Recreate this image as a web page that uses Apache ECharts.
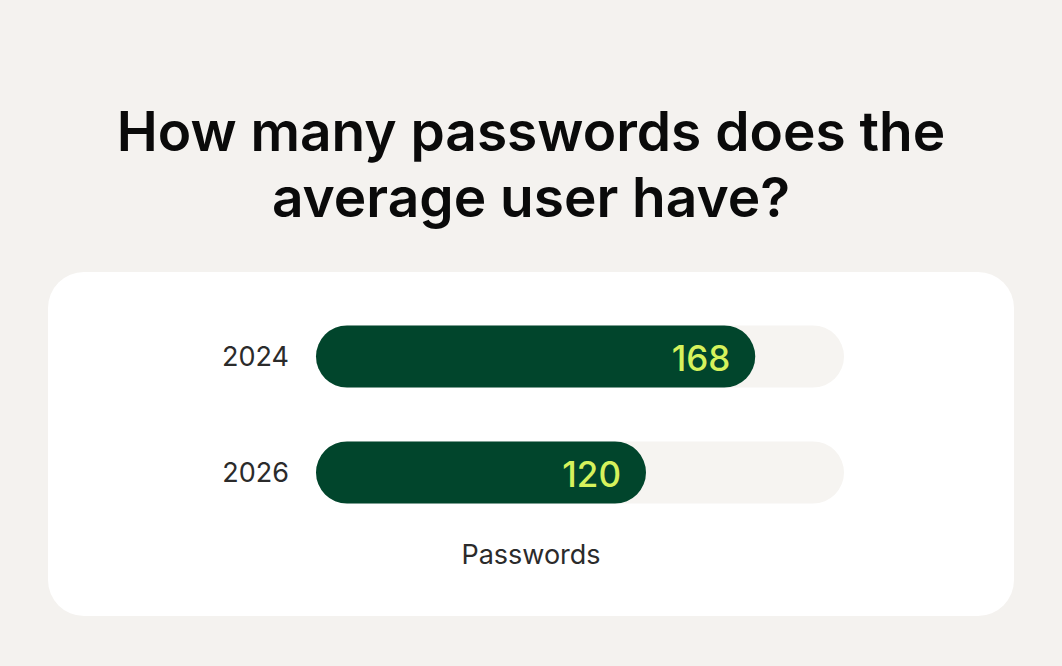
<!DOCTYPE html>
<html>
<head>
<meta charset="utf-8">
<script src="https://cdn.jsdelivr.net/npm/echarts@6/dist/echarts.min.js"></script>
<style>
html,body{margin:0;padding:0;background:#f4f2ef;}
#chart{width:1062px;height:666px;}
</style>
</head>
<body>
<div id="chart"></div>
<script>
const titleText = 'How many passwords does the\naverage user have?';
const categories = ['2024', '2026'];
const values = [168, 120];
const axisName = 'Passwords';
const axisMin = -25;
const axisMax = 207;

const chart = echarts.init(document.getElementById('chart'), null, {renderer: 'svg'});
const FONT = 'Inter, "Noto Sans", sans-serif';

chart.setOption({
  backgroundColor: '#f4f2ef',
  animation: false,
  title: {
    text: titleText,
    left: 'center',
    top: 93,
    textStyle: {
      fontFamily: FONT,
      fontSize: 55,
      fontWeight: 600,
      color: '#0a0a0a',
      lineHeight: 66,
      align: 'center'
    }
  },
  graphic: [{
    type: 'rect',
    z: -10,
    shape: {x: 48, y: 272, width: 966, height: 344, r: 36},
    style: {fill: '#ffffff'}
  }],
  grid: {left: 316, right: 218, top: 298.5, bottom: 135.5},
  xAxis: {
    type: 'value',
    min: axisMin,
    max: axisMax,
    axisLine: {show: false},
    axisTick: {show: false},
    axisLabel: {show: false},
    splitLine: {show: false},
    name: axisName,
    nameLocation: 'middle',
    nameGap: 10,
    nameTextStyle: {
      fontFamily: FONT,
      fontSize: 27,
      color: '#2b2b2b',
      padding: [0, 98, 0, 0]
    }
  },
  yAxis: {
    type: 'category',
    data: categories,
    inverse: true,
    axisLine: {show: false},
    axisTick: {show: false},
    axisLabel: {
      fontFamily: FONT,
      fontSize: 27,
      color: '#2b2b2b',
      margin: 27
    }
  },
  series: [{
    type: 'custom',
    data: values.map((v, i) => [v, i]),
    encode: {x: 0, y: 1},
    renderItem: function (params, api) {
      const idx = api.value(1);
      const val = api.value(0);
      const start = api.coord([axisMin, idx]);
      const end = api.coord([val, idx]);
      const full = api.coord([axisMax, idx]);
      const h = 62;
      const y = start[1];
      return {
        type: 'group',
        children: [
          {type: 'rect', shape: {x: start[0], y: y - h / 2, width: full[0] - start[0], height: h, r: h / 2}, style: {fill: '#f6f4f1'}},
          {type: 'rect', shape: {x: start[0], y: y - h / 2, width: end[0] - start[0], height: h, r: h / 2}, style: {fill: '#01452c'}},
          {type: 'text', style: {text: String(val), x: end[0] - 25, y: y + 1, align: 'right', verticalAlign: 'middle', fill: '#d6f25c', font: '500 35px ' + FONT}}
        ]
      };
    }
  }]
});
</script>
</body>
</html>
